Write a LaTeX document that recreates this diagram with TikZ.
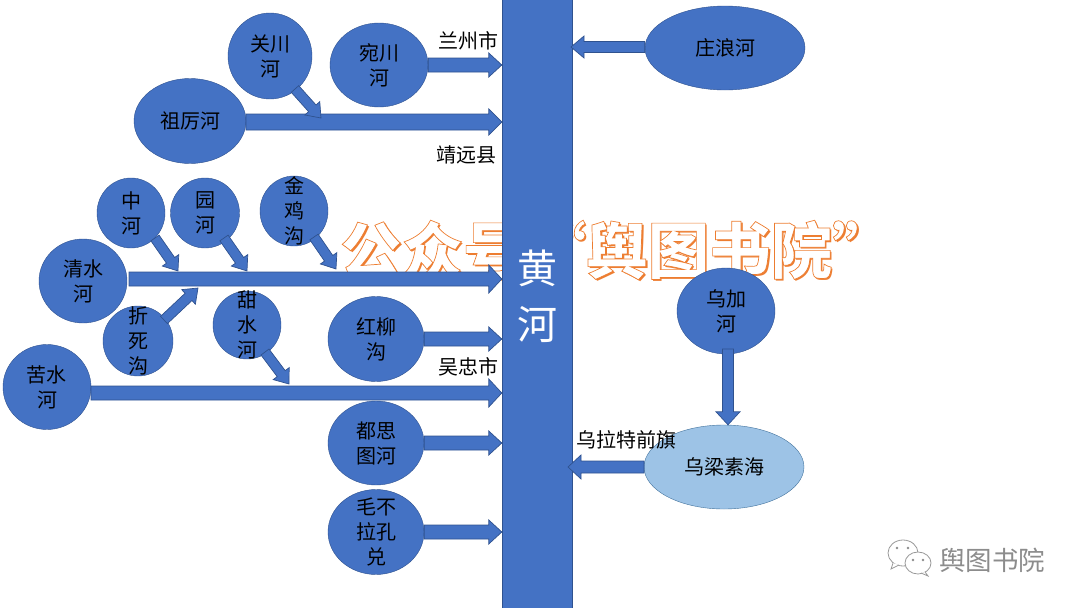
\documentclass[tikz,border=0pt]{standalone}
\usepackage{fontspec}
\usepackage{xcolor}
\usepackage{tikz}
\usetikzlibrary{arrows.meta, calc, positioning, shapes.geometric}
\setmainfont{Noto Sans CJK SC}
\definecolor{riverblue}{HTML}{4472C4}
\definecolor{riveredge}{HTML}{2F528F}
\definecolor{lakeblue}{HTML}{9DC3E6}
\definecolor{lakeedge}{HTML}{41719C}
\definecolor{markorange}{HTML}{ED7D31}

% shaft half width, head half width, from, to
\newcommand{\flow}[4]{%
    \draw[flowarrow] let \p1=($(#4)-(#3)$), \n1={atan2(\y1,\x1)}, \n2={veclen(\x1,\y1)} in
        [shift={(#3)}, rotate=\n1]
        (0pt,-#1pt) -- ({\n2-13pt},-#1pt) -- ({\n2-13pt},-#2pt) -- (\n2,0pt)
        -- ({\n2-13pt},#2pt) -- ({\n2-13pt},#1pt) -- (0pt,#1pt) -- cycle;
}

\begin{document}
\begin{tikzpicture}[
    x=1pt,
    y=-1pt,
    riverbox/.style={
        ellipse,
        draw=riveredge,
        fill=riverblue,
        align=center,
        inner sep=0pt,
        font=\fontsize{20}{25}\selectfont
    },
    tallbox/.style={
        riverbox,
        inner ysep=-14pt
    },
    lakebox/.style={
        riverbox,
        draw=lakeedge,
        fill=lakeblue
    },
    placelabel/.style={
        font=\fontsize{20}{24}\selectfont,
        inner sep=0pt
    },
    flowarrow/.style={
        draw=riveredge,
        fill=riverblue,
        line width=0.7pt
    },
    markshadow/.style={
        text=markorange,
        font=\fontsize{61.5}{70}\selectfont\bfseries
    },
    markfront/.style={
        font=\fontsize{61.5}{70}\selectfont\bfseries
    },
    chatline/.style={draw=black!40, fill=white, line width=0.8pt}
]

\useasboundingbox (0,0) rectangle (1080,608);

% watermark behind everything
\node[markshadow] (markback) at (619,252) {公众号“舆图书院”};
\node[markfront] (mark) at (617,250) {\special{pdf:code q 2 Tr 0.7 w 0.93 0.49 0.19 RG 1 1 1 rg}公众号“舆图书院”\special{pdf:code Q}};

% main river
\node[
    rectangle,
    draw=riveredge,
    fill=riverblue,
    minimum width=70pt,
    minimum height=626pt,
    inner sep=0pt,
    text=white,
    align=center,
    font=\fontsize{40}{56}\selectfont
] (huanghe) at (537,296) {黄\\河};

% upper left
\node[riverbox, minimum width=84pt, minimum height=86pt] (guanchuan) at (270,56) {关川\\河};
\node[riverbox, minimum width=98pt, minimum height=84pt] (wanchuan) at (379,65) {宛川\\河};
\node[riverbox, minimum width=112pt, minimum height=85pt] (zuli) at (190,121) {祖厉河};

% qingshui group
\node[riverbox, minimum width=68pt, minimum height=70pt] (zhonghe) at (131,213) {中\\河};
\node[riverbox, minimum width=69pt, minimum height=70pt] (yuanhe) at (205,213) {园\\河};
\node[tallbox, minimum width=68pt, minimum height=70pt] (jinji) at (294,211) {金\\鸡\\沟};
\node[riverbox, minimum width=88pt, minimum height=84pt] (qingshui) at (83,281) {清水\\河};
\node[tallbox, minimum width=70pt, minimum height=70pt] (zhesi) at (138,341) {折\\死\\沟};
\node[tallbox, minimum width=68pt, minimum height=68pt] (tianshui) at (247,325) {甜\\水\\河};

% lower left
\node[riverbox, minimum width=96pt, minimum height=85pt] (hongliu) at (376,339) {红柳\\沟};
\node[riverbox, minimum width=88pt, minimum height=85pt] (kushui) at (47,387) {苦水\\河};
\node[riverbox, minimum width=96pt, minimum height=84pt] (dusitu) at (376,443) {都思\\图河};
\node[tallbox, minimum width=96pt, minimum height=85pt] (maobula) at (376,532) {毛不\\拉孔\\兑};

% right side
\node[riverbox, minimum width=160pt, minimum height=84pt] (zhuanglang) at (725,48) {庄浪河};
\node[riverbox, minimum width=98pt, minimum height=86pt] (wujia) at (726,311) {乌加\\河};
\node[lakebox, minimum width=160pt, minimum height=84pt] (wuliangsu) at (724,467) {乌梁素海};

% place names
\node[placelabel] (lanzhou) at (468,41) {兰州市};
\node[placelabel] (jingyuan) at (466,155) {靖远县};
\node[placelabel] (wuzhong) at (468,367) {吴忠市};
\node[placelabel] (wulate) at (626,440) {乌拉特前旗};

% free ends
\coordinate (zulistart) at (246,122);
\coordinate (qingstart) at (129,279);
\coordinate (kustart) at (91,393);
\coordinate (guantail) at (295,89);
\coordinate (guantip) at (321,118);
\coordinate (zhongtail) at (155,238);
\coordinate (zhongtip) at (178,271);
\coordinate (yuantail) at (224,238);
\coordinate (yuantip) at (247,271);
\coordinate (jintail) at (314,237);
\coordinate (jintip) at (336,269);
\coordinate (zhetail) at (164,320);
\coordinate (zhetip) at (198,288);
\coordinate (tiantail) at (265,352);
\coordinate (tiantip) at (289,384);
\coordinate (wujiatail) at (728,349);
\coordinate (zhuangtip) at (571,47);
\coordinate (wuliangtail) at (644,467);
\coordinate (wuliangtip) at (568,467);

% stems into the main river
\flow{7}{12}{wanchuan.east}{huanghe.west |- wanchuan.east}
\flow{8}{13}{zulistart}{huanghe.west |- zulistart}
\flow{7}{14}{qingstart}{huanghe.west |- qingstart}
\flow{7}{12}{hongliu.east}{huanghe.west |- hongliu.east}
\flow{7}{14}{kustart}{huanghe.west |- kustart}
\flow{7}{12}{dusitu.east}{huanghe.west |- dusitu.east}
\flow{7}{12}{maobula.east}{huanghe.west |- maobula.east}

% side branches
\flow{5}{10}{guantail}{guantip}
\flow{5}{10}{zhongtail}{zhongtip}
\flow{5}{10}{yuantail}{yuantip}
\flow{5}{10}{jintail}{jintip}
\flow{5}{10}{zhetail}{zhetip}
\flow{5}{10}{tiantail}{tiantip}

% right side arrows
\flow{5.5}{11}{zhuanglang.west |- zhuangtip}{zhuangtip}
\flow{5.5}{12}{wujiatail}{wujiatail |- wuliangsu.north}
\flow{6}{12}{wuliangtail}{wuliangtip}

% corner logo
\draw[chatline] (903,553) ellipse [x radius=15, y radius=13];
\draw[chatline] (893,563) -- (891,569) -- (899,565);
\draw[chatline] (918,563) ellipse [x radius=13, y radius=11];
\draw[chatline] (925,572) -- (928,576) -- (921,573);
\fill[black!45] (897,548) circle [radius=1.3] (908,548) circle [radius=1.3]
    (913,560) circle [radius=1.3] (923,560) circle [radius=1.3];
\node[text=black!45, font=\fontsize{26.5}{30}\selectfont, inner sep=0pt] (logotext) at (992,560) {舆图书院};

\end{tikzpicture}
\end{document}
